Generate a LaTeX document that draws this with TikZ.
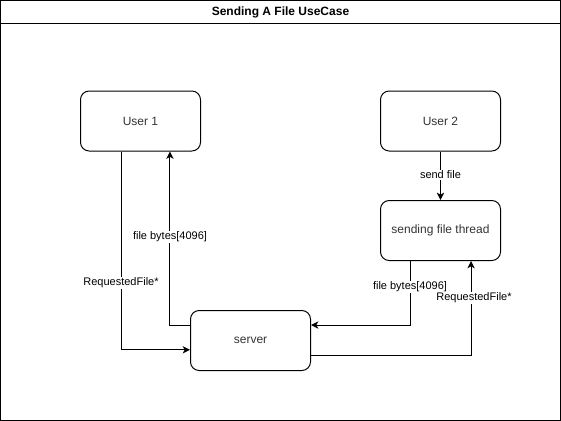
\documentclass[tikz,border=0pt]{standalone}
\usepackage{fontspec}
\setmainfont{Liberation Sans}
\usetikzlibrary{arrows.meta}
\definecolor{txt}{HTML}{333333}
\tikzset{
  box/.style={draw=black, line width=0.75pt, rounded corners=6.5pt, minimum width=90pt, minimum height=45pt, align=center, font=\fontsize{9pt}{11pt}\selectfont, text=txt},
  arr/.style={draw=black, line width=0.75pt, -{Stealth[length=5.5pt,width=5.5pt,inset=1.5pt]}},
  lbl/.style={fill=white, inner sep=0.5pt, font=\fontsize{8.25pt}{10pt}\selectfont, text=black}
}
\begin{document}
\begin{tikzpicture}[x=0.75pt,y=-0.75pt]
\useasboundingbox (0,0) rectangle (561,421);
% frame
\draw[line width=0.75pt] (0.5,0.5) rectangle (560,420);
\draw[line width=0.75pt] (0.5,23) -- (560,23);
\node[font=\bfseries\fontsize{9pt}{11pt}\selectfont] (title) at (280.5,12) {Sending A File UseCase};
% nodes
\node[box] (u1) at (140.5,121) {User 1};
\node[box] (u2) at (440.5,121) {User 2};
\node[box] (thr) at (440.5,230.5) {sending file thread};
\node[box] (srv) at (250.5,340.5) {server};
% edges
\draw[arr] ([xshift=-14.6pt]u1.south) |- ([yshift=-7pt]srv.west);
\draw[arr] ([yshift=11.6pt]srv.west) -| ([xshift=22.1pt]u1.south);
\draw[arr] (u2.south) -- (thr.north);
\draw[arr] ([xshift=-22.5pt]thr.south) |- ([yshift=11.6pt]srv.east);
\draw[arr] ([yshift=-10.9pt]srv.east) -| ([xshift=22.9pt]thr.south);
% labels
\node[lbl] (l1) at (121,283) {RequestedFile*};
\node[lbl] (l2) at (170,237) {file bytes[4096]};
\node[lbl] (l3) at (440.5,175) {send file};
\node[lbl] (l4) at (410,287) {file bytes[4096]};
\node[lbl] (l5) at (474,298) {RequestedFile*};
\end{tikzpicture}
\end{document}
